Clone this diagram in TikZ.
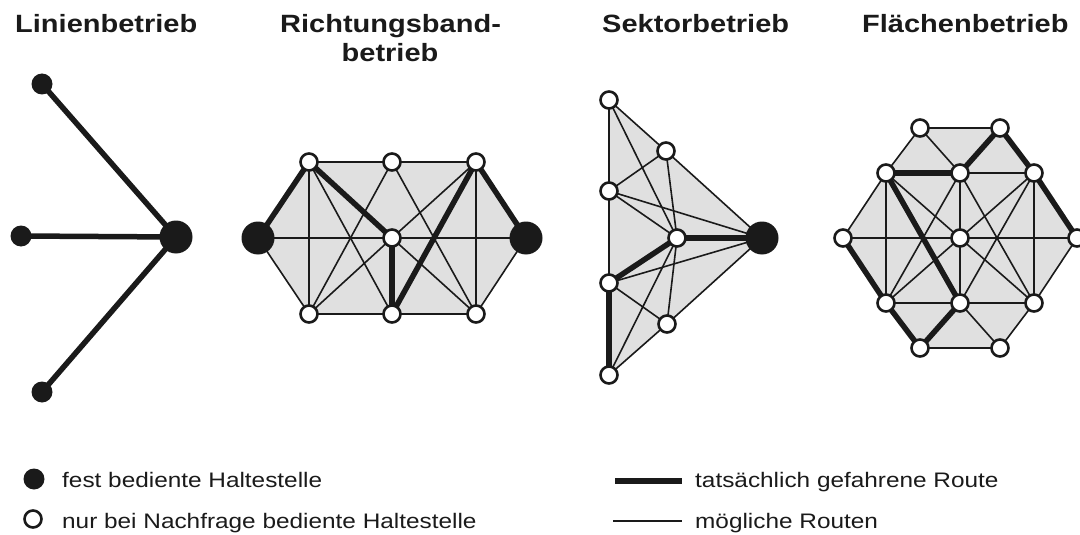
\documentclass[tikz,border=0pt]{standalone}
\usepackage{fontspec}
\setmainfont{Liberation Sans}[FakeStretch=1.16]
\definecolor{ink}{HTML}{1A1A1A}
\definecolor{areagray}{HTML}{E0E0E0}
\pgfdeclarelayer{fillbg}
\pgfdeclarelayer{edgebg}
\pgfsetlayers{fillbg,edgebg,main}
\tikzset{
  wst/.style={circle, draw=ink, fill=white, line width=2.6pt, minimum size=17pt, inner sep=0pt},
  fst/.style={circle, fill=ink, minimum size=33pt, inner sep=0pt},
  sst/.style={circle, fill=ink, minimum size=21pt, inner sep=0pt},
  route/.style={draw=ink, line width=5.5pt},
  poss/.style={draw=ink, line width=1.6pt},
  area/.style={fill=areagray},
  title/.style={font=\fontsize{25}{29}\selectfont\bfseries, text=ink, inner sep=0pt},
  legend/.style={font=\fontsize{21}{25}\selectfont, text=ink, inner sep=0pt}
}
\begin{document}
\begin{tikzpicture}[x=1pt, y=-1pt]
\useasboundingbox (0,0) rectangle (1080,535);

% titles
\node[title, anchor=base west] (t1) at (15,33) {Linienbetrieb};
\node[title, anchor=base west] (t2a) at (280,33) {Richtungsband-};
\node[title, anchor=base] (t2b) at (390,62) {betrieb};
\node[title, anchor=base west] (t3) at (602,33) {Sektorbetrieb};
\node[title, anchor=base west] (t4) at (862,33) {Flächenbetrieb};

% ---------- Linienbetrieb ----------
\node[sst] (L1) at (42,84) {};
\node[sst] (L2) at (21,236) {};
\node[sst] (L3) at (42,392) {};
\node[fst] (LC) at (176,237) {};
\begin{pgfonlayer}{edgebg}
  \draw[route] (L1.center) -- (LC.center);
  \draw[route] (L2.center) -- (LC.center);
  \draw[route] (L3.center) -- (LC.center);
\end{pgfonlayer}

% ---------- Richtungsbandbetrieb ----------
\node[fst] (RL) at (258,238) {};
\node[fst] (RR) at (526,238) {};
\node[wst] (RT1) at (309,162) {};
\node[wst] (RT2) at (392,162) {};
\node[wst] (RT3) at (476,162) {};
\node[wst] (RC) at (392,238) {};
\node[wst] (RB1) at (309,314) {};
\node[wst] (RB2) at (392,314) {};
\node[wst] (RB3) at (476,314) {};
\begin{pgfonlayer}{fillbg}
  \fill[area] (RL.center) -- (RT1.center) -- (RT3.center) -- (RR.center) -- (RB3.center) -- (RB1.center) -- cycle;
\end{pgfonlayer}
\begin{pgfonlayer}{edgebg}
  \foreach \a/\b in {RT1/RT2, RT2/RT3, RR/RB3, RB3/RB2, RB2/RB1, RB1/RL, RL/RC, RC/RR,
                     RT1/RB1, RT3/RB3, RT1/RB2, RC/RB3, RT2/RB1, RT2/RB3, RT3/RC, RC/RB1}
    \draw[poss] (\a.center) -- (\b.center);
  \foreach \a/\b in {RL/RT1, RT1/RC, RC/RB2, RB2/RT3, RT3/RR}
    \draw[route] (\a.center) -- (\b.center);
\end{pgfonlayer}

% ---------- Sektorbetrieb ----------
\node[wst] (SA) at (609,100) {};
\node[wst] (SB) at (666,151) {};
\node[wst] (SC) at (609,191) {};
\node[wst] (SD) at (677,238) {};
\node[fst] (SE) at (762,238) {};
\node[wst] (SF) at (609,283) {};
\node[wst] (SG) at (667,324) {};
\node[wst] (SH) at (609,375) {};
\begin{pgfonlayer}{fillbg}
  \fill[area] (SA.center) -- (SB.center) -- (SE.center) -- (SG.center) -- (SH.center) -- cycle;
\end{pgfonlayer}
\begin{pgfonlayer}{edgebg}
  \foreach \a/\b in {SA/SB, SB/SE, SE/SG, SG/SH, SA/SC, SC/SF, SA/SD, SB/SC, SB/SD,
                     SC/SD, SC/SE, SF/SE, SF/SG, SD/SG, SD/SH}
    \draw[poss] (\a.center) -- (\b.center);
  \foreach \a/\b in {SD/SE, SD/SF, SF/SH}
    \draw[route] (\a.center) -- (\b.center);
\end{pgfonlayer}

% ---------- Flaechenbetrieb ----------
\node[wst] (FT1) at (920,128) {};
\node[wst] (FT2) at (1000,128) {};
\node[wst] (FU1) at (886,173) {};
\node[wst] (FU2) at (960,173) {};
\node[wst] (FU3) at (1034,173) {};
\node[wst] (FM1) at (843,238) {};
\node[wst] (FM2) at (960,238) {};
\node[wst] (FM3) at (1077,238) {};
\node[wst] (FW1) at (886,303) {};
\node[wst] (FW2) at (960,303) {};
\node[wst] (FW3) at (1034,303) {};
\node[wst] (FB1) at (920,348) {};
\node[wst] (FB2) at (1000,348) {};
\begin{pgfonlayer}{fillbg}
  \fill[area] (FT1.center) -- (FT2.center) -- (FU3.center) -- (FM3.center) -- (FW3.center) -- (FB2.center)
     -- (FB1.center) -- (FW1.center) -- (FM1.center) -- (FU1.center) -- cycle;
\end{pgfonlayer}
\begin{pgfonlayer}{edgebg}
  \foreach \a/\b in {FT1/FT2, FM3/FW3, FW3/FB2, FB2/FB1, FM1/FU1, FU1/FT1, FT1/FU2, FU2/FU3,
                     FW1/FW2, FW2/FW3, FB2/FW2, FM1/FM2, FM2/FM3, FU1/FW1, FU3/FW3, FU2/FM2, FM2/FW2,
                     FU1/FM2, FM2/FW3, FU3/FM2, FM2/FW1, FU2/FW1, FU2/FW3, FU3/FW2}
    \draw[poss] (\a.center) -- (\b.center);
  \foreach \a/\b in {FT2/FU3, FU3/FM3, FB1/FW1, FW1/FM1, FU2/FT2, FU1/FU2, FB1/FW2, FU1/FW2}
    \draw[route] (\a.center) -- (\b.center);
\end{pgfonlayer}

% ---------- legend ----------
\node[sst] (lg1) at (34,479) {};
\node[wst] (lg2) at (33,519) {};
\node[legend, anchor=base west] (lt1) at (62,487) {fest bediente Haltestelle};
\node[legend, anchor=base west] (lt2) at (62,528) {nur bei Nachfrage bediente Haltestelle};
\coordinate (la1) at (615,481);
\coordinate (lb1) at (682,481);
\coordinate (la2) at (613,521);
\coordinate (lb2) at (682,521);
\draw[draw=ink, line width=6.5pt] (la1) -- (lb1);
\draw[poss] (la2) -- (lb2);
\node[legend, anchor=base west] (lt3) at (695,487) {tatsächlich gefahrene Route};
\node[legend, anchor=base west] (lt4) at (695,528) {mögliche Routen};
\end{tikzpicture}
\end{document}
